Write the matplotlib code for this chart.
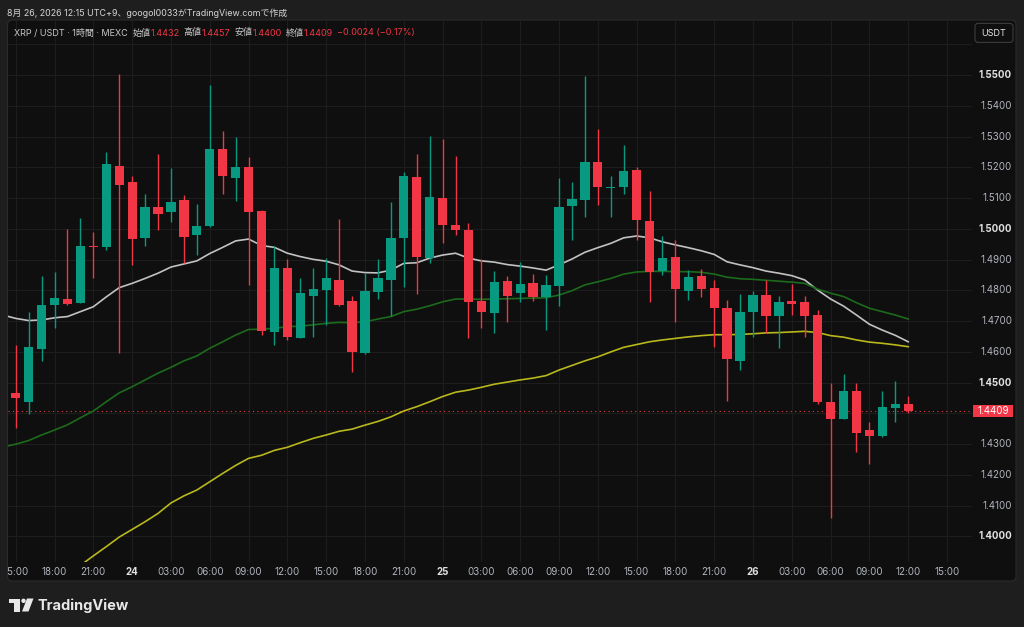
import numpy as np
import matplotlib
matplotlib.use("Agg")
import matplotlib.pyplot as plt
from matplotlib.patches import FancyBboxPatch, Rectangle, Circle, Polygon
from matplotlib.transforms import Bbox

plt.rcParams['font.family'] = ['Inter', 'Noto Sans CJK JP', 'DejaVu Sans']

# XRP/USDT 1時間足 (8/23 15:00 〜 8/26 12:00)
opens = [1.4465, 1.4438, 1.4610, 1.4753, 1.4773, 1.4760, 1.4943, 1.4942, 1.5204, 1.5154,
         1.4971, 1.5072, 1.5055, 1.5094, 1.4981, 1.5008, 1.5259, 1.5164, 1.5201, 1.5057,
         1.4664, 1.4872, 1.4646, 1.4781, 1.4800, 1.4834, 1.4764, 1.4597, 1.4795, 1.4834,
         1.4969, 1.5168, 1.4906, 1.5101, 1.5013, 1.4998, 1.4766, 1.4728, 1.4831, 1.4791,
         1.4823, 1.4779, 1.4816, 1.5073, 1.5095, 1.5219, 1.5134, 1.5137, 1.5191, 1.5025,
         1.4863, 1.4909, 1.4799, 1.4847, 1.4808, 1.4742, 1.4572, 1.4731, 1.4786, 1.4717,
         1.4764, 1.4762, 1.4720, 1.4436, 1.4382, 1.4473, 1.4347, 1.4328, 1.4419, 1.4432]
highs = [1.4623, 1.4729, 1.4847, 1.4859, 1.5000, 1.5036, 1.4990, 1.5249, 1.5504, 1.5173,
         1.5114, 1.5242, 1.5198, 1.5111, 1.5082, 1.5469, 1.5319, 1.5298, 1.5234, 1.5062,
         1.4945, 1.4901, 1.4841, 1.4874, 1.4906, 1.5033, 1.4782, 1.4856, 1.4903, 1.5089,
         1.5184, 1.5242, 1.5303, 1.5293, 1.5237, 1.5019, 1.4903, 1.4862, 1.4848, 1.4891,
         1.4852, 1.4850, 1.5164, 1.5154, 1.5497, 1.5326, 1.5171, 1.5273, 1.5201, 1.5122,
         1.4978, 1.4963, 1.4867, 1.4871, 1.4835, 1.4769, 1.4788, 1.4799, 1.4833, 1.4781,
         1.4822, 1.4783, 1.4736, 1.4499, 1.4528, 1.4500, 1.4371, 1.4472, 1.4507, 1.4457]
lows = [1.4352, 1.4398, 1.4571, 1.4677, 1.4753, 1.4758, 1.4841, 1.4932, 1.4597, 1.4882,
        1.4944, 1.4996, 1.5023, 1.4888, 1.4914, 1.5006, 1.5113, 1.5091, 1.4819, 1.4655,
        1.4623, 1.4640, 1.4644, 1.4649, 1.4686, 1.4749, 1.4534, 1.4593, 1.4772, 1.4716,
        1.4810, 1.4787, 1.4888, 1.4954, 1.4979, 1.4646, 1.4679, 1.4663, 1.4697, 1.4762,
        1.4765, 1.4671, 1.4750, 1.4963, 1.5040, 1.5077, 1.5040, 1.5115, 1.4963, 1.4761,
        1.4851, 1.4697, 1.4768, 1.4777, 1.4617, 1.4440, 1.4542, 1.4649, 1.4663, 1.4612,
        1.4720, 1.4650, 1.4432, 1.4060, 1.4381, 1.4276, 1.4236, 1.4322, 1.4372, 1.4400]
closes = [1.4449, 1.4615, 1.4751, 1.4776, 1.4755, 1.4946, 1.4941, 1.5212, 1.5142, 1.4968,
          1.5072, 1.5048, 1.5086, 1.4973, 1.5011, 1.5259, 1.5171, 1.5201, 1.5055, 1.4667,
          1.4872, 1.4649, 1.4791, 1.4805, 1.4839, 1.4751, 1.4599, 1.4798, 1.4839, 1.4970,
          1.5173, 1.4909, 1.5104, 1.5014, 1.4998, 1.4763, 1.4729, 1.4827, 1.4781, 1.4820,
          1.4779, 1.4817, 1.5072, 1.5096, 1.5217, 1.5135, 1.5136, 1.5188, 1.5028, 1.4861,
          1.4906, 1.4805, 1.4845, 1.4805, 1.4743, 1.4576, 1.4729, 1.4786, 1.4717, 1.4762,
          1.4755, 1.4717, 1.4437, 1.4382, 1.4473, 1.4338, 1.4328, 1.4420, 1.4432, 1.4409]

# 移動平均線 (14:00 の足から)
ma_white = [1.4720, 1.4709, 1.4702, 1.4704, 1.4711, 1.4715, 1.4731, 1.4747, 1.4779, 1.4809,
            1.4823, 1.4839, 1.4856, 1.4876, 1.4886, 1.4896, 1.4920, 1.4940, 1.4961, 1.4967,
            1.4946, 1.4940, 1.4921, 1.4910, 1.4901, 1.4895, 1.4883, 1.4863, 1.4858, 1.4857,
            1.4866, 1.4888, 1.4890, 1.4905, 1.4915, 1.4921, 1.4905, 1.4896, 1.4892, 1.4884,
            1.4879, 1.4873, 1.4866, 1.4883, 1.4902, 1.4924, 1.4939, 1.4953, 1.4971, 1.4977,
            1.4971, 1.4958, 1.4948, 1.4939, 1.4929, 1.4917, 1.4893, 1.4883, 1.4874, 1.4863,
            1.4856, 1.4848, 1.4834, 1.4801, 1.4772, 1.4749, 1.4720, 1.4690, 1.4671, 1.4654,
            1.4633]
ma_green = [1.4291, 1.4300, 1.4312, 1.4330, 1.4346, 1.4363, 1.4386, 1.4408, 1.4438, 1.4467,
            1.4487, 1.4509, 1.4531, 1.4550, 1.4571, 1.4587, 1.4612, 1.4633, 1.4655, 1.4673,
            1.4674, 1.4677, 1.4682, 1.4684, 1.4688, 1.4693, 1.4696, 1.4695, 1.4698, 1.4707,
            1.4715, 1.4731, 1.4739, 1.4750, 1.4763, 1.4772, 1.4772, 1.4771, 1.4772, 1.4773,
            1.4774, 1.4775, 1.4776, 1.4785, 1.4799, 1.4818, 1.4828, 1.4839, 1.4853, 1.4860,
            1.4862, 1.4862, 1.4861, 1.4861, 1.4859, 1.4853, 1.4843, 1.4838, 1.4836, 1.4833,
            1.4830, 1.4827, 1.4823, 1.4804, 1.4791, 1.4780, 1.4760, 1.4742, 1.4731, 1.4720,
            1.4707]
ma_yellow = [None, None, None, None, None,
             1.3875, 1.3906, 1.3937, 1.3967, 1.3998, 1.4023, 1.4048, 1.4075, 1.4109, 1.4132,
             1.4151, 1.4178, 1.4205, 1.4231, 1.4254, 1.4264, 1.4280, 1.4290, 1.4305, 1.4319,
             1.4330, 1.4342, 1.4349, 1.4362, 1.4374, 1.4389, 1.4408, 1.4422, 1.4438, 1.4455,
             1.4469, 1.4476, 1.4485, 1.4495, 1.4502, 1.4509, 1.4515, 1.4523, 1.4541, 1.4556,
             1.4571, 1.4584, 1.4600, 1.4615, 1.4624, 1.4633, 1.4639, 1.4644, 1.4649, 1.4653,
             1.4656, 1.4656, 1.4657, 1.4659, 1.4662, 1.4663, 1.4665, 1.4667, 1.4663, 1.4653,
             1.4648, 1.4639, 1.4632, 1.4628, 1.4623, 1.4617]

time_labels = ["15:00", "18:00", "21:00", "24", "03:00", "06:00", "09:00", "12:00", "15:00",
               "18:00", "21:00", "25", "03:00", "06:00", "09:00", "12:00", "15:00", "18:00",
               "21:00", "26", "03:00", "06:00", "09:00", "12:00", "15:00"]
price_levels = [1.40, 1.41, 1.42, 1.43, 1.44, 1.45, 1.46, 1.47, 1.48, 1.49,
                1.50, 1.51, 1.52, 1.53, 1.54, 1.55, 1.56]
last_price = 1.4409

UP = "#089981"
DOWN = "#f23645"
BG = "#0f0f0f"
OUTER = "#1e1e1e"
GRID = "#1d1d1d"
LABEL = "#b2b5be"

W, H = 1024, 627
fig = plt.figure(figsize=(W / 100, H / 100), dpi=100, facecolor=OUTER)


def inch(x, y):
    # ピクセル(左上原点) -> インチ(左下原点)
    return x / 100, (H - y) / 100


panel = FancyBboxPatch(inch(7.5, 581), (1016 - 7.5) / 100, (581 - 20) / 100,
                       boxstyle="round,pad=0,rounding_size=0.05",
                       transform=fig.dpi_scale_trans, fc=BG, ec="#2b2b2b", lw=0.8, zorder=-5)
fig.add_artist(panel)

ax = fig.add_axes([8 / W, 1 - 562 / H, (972 - 8) / W, (562 - 21) / H])
ax.set_facecolor("none")
for s in ax.spines.values():
    s.set_visible(False)
ax.set_xlim(-0.6, 73.93)
ax.set_ylim(1.3917, 1.5676)
ax.set_xticks([])
ax.set_yticks([])

tick_pos = np.arange(0, 3 * len(time_labels), 3)
for p in price_levels:
    ax.axhline(p, color=GRID, lw=0.8, zorder=0)
for t in tick_pos:
    ax.axvline(t, color=GRID, lw=0.8, zorder=0)

# 移動平均線
ma_x = np.arange(-1, len(closes))
ax.plot(ma_x, ma_white, color="#c2c2c2", lw=1.2, zorder=2)
ax.plot(ma_x, ma_green, color="#1c6b1c", lw=1.2, zorder=2)
ax.plot(ma_x, np.array(ma_yellow, dtype=float), color="#b8b81c", lw=1.2, zorder=2)

# ローソク足
idx = np.arange(len(closes))
o = np.array(opens)
c = np.array(closes)
colors = np.where(c >= o, UP, DOWN)
ax.vlines(idx, lows, highs, colors=colors, lw=1.0, zorder=3)
ax.bar(idx, np.maximum(np.abs(c - o), 0.0003), bottom=np.minimum(o, c), width=0.72,
       color=colors, lw=0, zorder=4)

# 現在値ライン
ax.axhline(last_price, color=DOWN, lw=0.8, ls=(0, (1, 3)), zorder=1)

renderer = fig.canvas.get_renderer()

# 時間軸ラベル
clip = Bbox.from_extents(8, 0, 1016, H)
for t, lab in zip(tick_pos, time_labels):
    xpix = ax.transData.transform((t, 0))[0]
    bold = lab in ("24", "25", "26")
    txt = fig.text(xpix / W, 1 - 572 / H, lab, ha="center", va="center", fontsize=7,
                   color="#e0e0e0" if bold else LABEL, fontweight="bold" if bold else "normal")
    txt.set_clip_on(True)
    txt.set_clip_box(clip)

# 価格軸ラベル
for p in price_levels:
    if p in (1.44, 1.56):
        continue
    ypix = ax.transData.transform((0, p))[1]
    major = round(p * 100) % 5 == 0
    fig.text(1012 / W, ypix / H, f"{p:.4f}", ha="right", va="center", fontsize=7,
             color="#e0e0e0" if major else LABEL, fontweight="bold" if major else "normal")

ypix = ax.transData.transform((0, last_price))[1]
fig.add_artist(Rectangle((972.7 / W, (ypix - 6) / H), (1013.3 - 972.7) / W, 12 / H,
                         transform=fig.transFigure, fc=DOWN, ec="none"))
fig.text(993 / W, ypix / H, f"{last_price:.4f}", ha="center", va="center", fontsize=7,
         color="white")

# USDT ボタン
fig.add_artist(FancyBboxPatch(inch(975, 42.4), (1013 - 975) / 100, 19 / 100,
                              boxstyle="round,pad=0,rounding_size=0.03",
                              transform=fig.dpi_scale_trans, fc=BG, ec="#3c3c3c", lw=0.8))
fig.text(994 / W, 1 - 33 / H, "USDT", ha="center", va="center", fontsize=6.5, color="#e6e6e6")


def run(x, y, parts, size=6.5):
    # 文字列を左から順に並べる (各グループの後に g ピクセルの余白)
    for s, col, g in parts:
        t = fig.text(x / W, 1 - y / H, s, color=col, fontsize=size, va="baseline", ha="left")
        x += t.get_window_extent(renderer).width + g
    return x


# 作成者表記とヘッダー
run(7, 16, [("8月 26, 2026 12:15 UTC+9、googol0033がTradingView.comで作成", "#d6d6d6", 0)],
    size=6.4)
HEAD = "#c8c8c8"
run(14, 35.5, [("XRP / USDT · 1時間 · MEXC", HEAD, 5),
               ("始値", HEAD, 0), ("1.4432", DOWN, 4),
               ("高値", HEAD, 0), ("1.4457", DOWN, 4),
               ("安値", HEAD, 0), ("1.4400", DOWN, 4),
               ("終値", HEAD, 0), ("1.4409", DOWN, 4),
               ("−0.0024 (−0.17%)", DOWN, 0)])

# TradingView ロゴ
LOGO = "#e8e8e8"
fig.add_artist(Rectangle(inch(9, 602.5), 0.11, 0.04, transform=fig.dpi_scale_trans, fc=LOGO, ec="none"))
fig.add_artist(Rectangle(inch(14, 611.5), 0.06, 0.13, transform=fig.dpi_scale_trans, fc=LOGO, ec="none"))
fig.add_artist(Circle(inch(23.5, 600.8), 0.022, transform=fig.dpi_scale_trans, fc=LOGO, ec="none"))
fig.add_artist(Polygon([inch(27, 598.5), inch(33.5, 598.5), inch(28.5, 611.5), inch(22, 611.5)],
                       closed=True, transform=fig.dpi_scale_trans, fc=LOGO, ec="none"))
fig.text(37 / W, 1 - 610 / H, "TradingView", fontsize=10.5, fontweight="bold",
         color=LOGO, va="baseline", ha="left")

fig.savefig("out.png", dpi=100, facecolor=OUTER)
